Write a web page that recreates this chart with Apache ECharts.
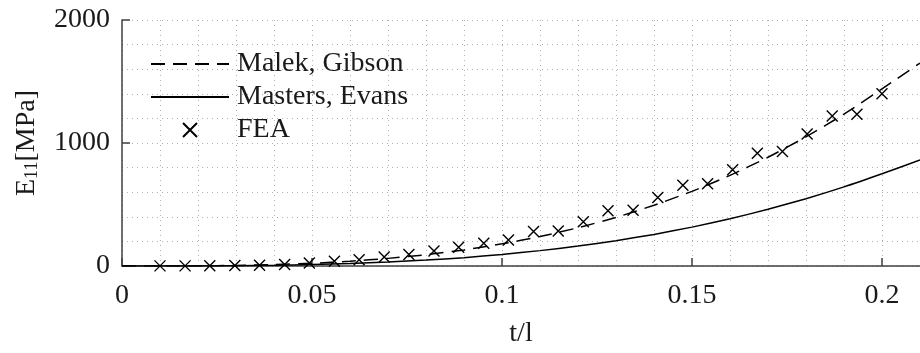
<!DOCTYPE html>
<html>
<head>
<meta charset="utf-8">
<script src="https://cdn.jsdelivr.net/npm/echarts@6/dist/echarts.min.js"></script>
<style>
  html, body { margin: 0; padding: 0; background: #fff; }
  #chart { width: 920px; height: 353px; }
</style>
</head>
<body>
<div id="chart"></div>
<script>
// ---- data ----
const curveX = [0, 0.01, 0.02, 0.03, 0.04, 0.05, 0.06, 0.07, 0.08, 0.09, 0.10, 0.11,
                0.12, 0.13, 0.14, 0.15, 0.16, 0.17, 0.18, 0.19, 0.20, 0.21];
const malekGibson = [0, 0.2, 1.4, 5, 11.5, 22, 39, 62, 92, 131, 180, 240,
                     311, 395, 494, 607, 737, 884, 1050, 1235, 1440, 1650];
const mastersEvans = [0, 0.1, 0.8, 2.5, 6, 12, 20, 32, 48, 68, 94, 125,
                      162, 206, 257, 316, 384, 461, 547, 643, 750, 862];
const feaX = [0.0100, 0.0166, 0.0231, 0.0297, 0.0362, 0.0428, 0.0493, 0.0559, 0.0624, 0.0690,
              0.0755, 0.0821, 0.0886, 0.0952, 0.1017, 0.1083, 0.1148, 0.1214, 0.1279, 0.1345,
              0.1410, 0.1476, 0.1541, 0.1607, 0.1672, 0.1738, 0.1803, 0.1869, 0.1934, 0.2000];
const feaY = [1, 1, 2, 4, 7, 12, 24, 38, 51, 73,
              94, 121, 153, 185, 212, 280, 285, 360, 449, 454,
              556, 656, 669, 782, 917, 930, 1073, 1220, 1234, 1401];
const xTickLabels = ['0', '0.05', '0.1', '0.15', '0.2'];
const yTickLabels = ['0', '1000', '2000'];
const seriesNames = ['Malek, Gibson', 'Masters, Evans', 'FEA'];

// ---- chart ----
const serif = 'Liberation Serif';
const axisColor = '#404040';
const gridLine = { show: true, lineStyle: { type: [1, 4], color: '#b0b0b0', width: 1 } };

const chart = echarts.init(document.getElementById('chart'), null, { renderer: 'canvas' });
chart.setOption({
  animation: false,
  backgroundColor: '#fff',
  grid: { left: 122, top: 20, width: 803.5, height: 248, containLabel: false },
  legend: {
    orient: 'vertical',
    left: 150,
    top: 50,
    padding: 0,
    itemWidth: 78,
    itemHeight: 14,
    itemGap: 5,
    textStyle: { fontFamily: serif, fontSize: 28, color: '#1a1a1a', padding: [0, 0, 0, 3] },
    data: [
      { name: seriesNames[0], itemStyle: { opacity: 0 } },
      { name: seriesNames[1], itemStyle: { opacity: 0 } },
      { name: seriesNames[2] }
    ]
  },
  xAxis: {
    type: 'value',
    min: 0, max: 0.21, interval: 0.05,
    name: 't/l',
    nameLocation: 'middle',
    nameGap: 54,
    nameTextStyle: { fontFamily: serif, fontSize: 28, color: '#1a1a1a' },
    axisLine: { show: true, onZero: false, lineStyle: { color: axisColor, width: 1.5 } },
    axisTick: { show: true, inside: true, length: 8, lineStyle: { color: axisColor, width: 1.5 } },
    minorTick: { show: false, splitNumber: 5 },
    splitLine: gridLine,
    minorSplitLine: gridLine,
    axisLabel: {
      margin: 16,
      fontFamily: serif, fontSize: 28, color: '#1a1a1a',
      showMaxLabel: false,
      formatter: function (v) {
        const s = String(+v.toFixed(4));
        return xTickLabels.indexOf(s) >= 0 ? s : '';
      }
    }
  },
  yAxis: {
    type: 'value',
    min: 0, max: 2000, interval: 1000,
    name: '{m|E}{s|11}{m|[MPa]}',
    nameLocation: 'middle',
    nameGap: 80,
    nameRotate: 90,
    nameTextStyle: {
      rich: {
        m: { fontFamily: serif, fontSize: 28, color: '#1a1a1a', lineHeight: 30 },
        s: { fontFamily: serif, fontSize: 18, color: '#1a1a1a', lineHeight: 30, padding: [10, 0, 0, 0] }
      }
    },
    axisLine: { show: true, lineStyle: { color: axisColor, width: 1.5 } },
    axisTick: { show: true, inside: true, length: 8, lineStyle: { color: axisColor, width: 1.5 } },
    minorTick: { show: false, splitNumber: 5 },
    splitLine: gridLine,
    minorSplitLine: gridLine,
    axisLabel: {
      margin: 12,
      fontFamily: serif, fontSize: 28, color: '#1a1a1a',
      formatter: function (v) {
        const s = String(v);
        return yTickLabels.indexOf(s) >= 0 ? s : '';
      }
    }
  },
  series: [
    {
      name: seriesNames[0],
      type: 'line',
      data: curveX.map((x, i) => [x, malekGibson[i]]),
      symbol: 'none',
      smooth: 0.2,
      lineStyle: { color: '#000', width: 1.5, type: [14, 8] },
      itemStyle: { color: '#000' },
      z: 3
    },
    {
      name: seriesNames[1],
      type: 'line',
      data: curveX.map((x, i) => [x, mastersEvans[i]]),
      symbol: 'none',
      smooth: 0.2,
      lineStyle: { color: '#000', width: 1.5, type: 'solid' },
      itemStyle: { color: '#000' },
      z: 3
    },
    {
      name: seriesNames[2],
      type: 'scatter',
      data: feaX.map((x, i) => [x, feaY[i]]),
      symbol: 'path://M0,0L10,10M0,10L10,0',
      symbolSize: 11,
      symbolKeepAspect: true,
      itemStyle: { color: 'rgba(0,0,0,0)', borderColor: '#000', borderWidth: 1.4, opacity: 1 },
      z: 4
    }
  ]
});
</script>
</body>
</html>
